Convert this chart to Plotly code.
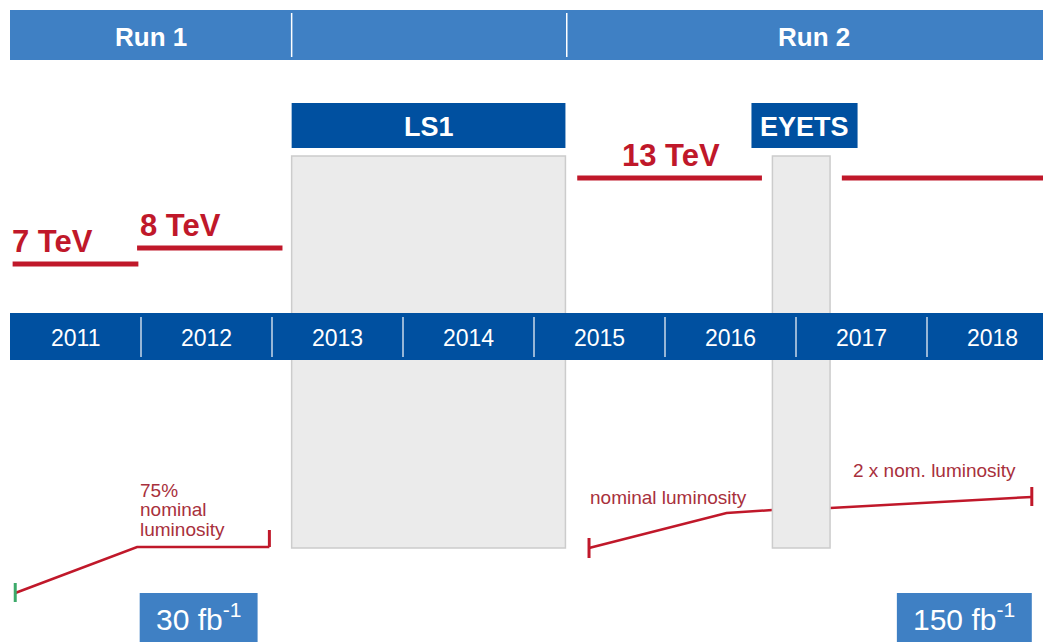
import plotly.graph_objects as go

# ---------------- data ----------------
years = [2011, 2012, 2013, 2014, 2015, 2016, 2017, 2018]
year_labels = [str(y) for y in years]

runs = ["Run 1", "Run 2"]
run_label_x = [2012.08, 2017.14]

shutdowns = ["LS1", "EYETS"]
shutdown_head_spans = [(2013.15, 2015.24), (2016.66, 2017.47)]
shutdown_box_spans = [(2013.15, 2015.24), (2016.82, 2017.26)]

energy_labels = ["7 TeV", "8 TeV", "13 TeV", ""]
energy_starts = [2011.02, 2011.97, 2015.33, 2017.35]
energy_ends = [2011.98, 2013.08, 2016.74, 2018.9]
energy_levels = [264, 248, 178, 178]
energy_text_x = [2011.00, 2011.98, 2015.66]

lumi1_x = [2011.04, 2011.97, 2012.98]
lumi1_y = [593, 547, 547]
lumi2_x = [2015.42, 2016.47, 2016.82, 2017.26, 2018.80]
lumi2_y = [548, 513, 510, 508, 497]

lumi_texts = ["75%<br>nominal<br>luminosity", "nominal luminosity", "2 x nom. luminosity"]
lumi_text_x = [2011.98, 2015.41, 2017.42]
lumi_text_y = [490, 497, 470]

totals = ["30 fb<sup>-1</sup>", "150 fb<sup>-1</sup>"]
total_spans = [(2011.99, 2012.89), (2017.77, 2018.80)]

# ---------------- style ----------------
LIGHT_BLUE = "#3f80c4"
DARK_BLUE = "#0050a0"
RED = "#c0182a"
TEXT_RED = "#a8303c"
GREY = "#ebebeb"
FONT = "Liberation Sans, Arial, sans-serif"

fig = go.Figure()
shapes = []
ann = []

# top run bar
shapes.append(dict(type="rect", x0=2011.0, x1=2018.9, y0=10, y1=60,
                   fillcolor=LIGHT_BLUE, line=dict(width=0), layer="above"))
for xs in [2013.15, 2015.25]:
    shapes.append(dict(type="line", x0=xs, x1=xs, y0=13, y1=57,
                       line=dict(color="white", width=1.5), layer="above"))
for r, cx in zip(runs, run_label_x):
    ann.append(dict(x=cx, y=37, text="<b>%s</b>" % r, showarrow=False,
                    font=dict(family=FONT, size=26, color="white")))

# shutdown headers and grey boxes
for name, (a, b), (c, d) in zip(shutdowns, shutdown_head_spans, shutdown_box_spans):
    shapes.append(dict(type="rect", x0=a, x1=b, y0=103, y1=148,
                       fillcolor=DARK_BLUE, line=dict(width=0), layer="above"))
    ann.append(dict(x=(a + b) / 2, y=127, text="<b>%s</b>" % name, showarrow=False,
                    font=dict(family=FONT, size=27, color="white")))
    shapes.append(dict(type="rect", x0=c, x1=d, y0=156, y1=548,
                       fillcolor=GREY, line=dict(color="#cccccc", width=1.5), layer="above"))

# year bar
shapes.append(dict(type="rect", x0=2011.0, x1=2018.9, y0=313, y1=360,
                   fillcolor=DARK_BLUE, line=dict(width=0), layer="above"))
for y in years[1:]:
    shapes.append(dict(type="line", x0=y, x1=y, y0=317, y1=357,
                       line=dict(color="#c8d8ea", width=1.5), layer="above"))
for y, lab in zip(years, year_labels):
    ann.append(dict(x=y + 0.5, y=338, text=lab, showarrow=False,
                    font=dict(family=FONT, size=23, color="white")))

# energy lines
for lab, a, b, lv in zip(energy_labels, energy_starts, energy_ends, energy_levels):
    fig.add_trace(go.Scatter(x=[a, b], y=[lv, lv], mode="lines",
                             line=dict(color=RED, width=5), hoverinfo="skip"))
for lab, tx, lv in zip(energy_labels[:3], energy_text_x, energy_levels[:3]):
    ann.append(dict(x=tx, y=lv - 3, text="<b>%s</b>" % lab, showarrow=False,
                    xanchor="left", yanchor="bottom",
                    font=dict(family=FONT, size=31, color=RED)))

# luminosity lines
fig.add_trace(go.Scatter(x=lumi1_x, y=lumi1_y, mode="lines",
                         line=dict(color=RED, width=2.5), hoverinfo="skip"))
fig.add_trace(go.Scatter(x=lumi2_x, y=lumi2_y, mode="lines",
                         line=dict(color=RED, width=2.5), hoverinfo="skip"))
# end ticks
fig.add_trace(go.Scatter(x=[lumi1_x[0], lumi1_x[0]], y=[lumi1_y[0] - 10, lumi1_y[0] + 9],
                         mode="lines", line=dict(color="#3daa6a", width=3), hoverinfo="skip"))
fig.add_trace(go.Scatter(x=[lumi1_x[-1], lumi1_x[-1]], y=[lumi1_y[-1] - 17, lumi1_y[-1]],
                         mode="lines", line=dict(color=RED, width=3), hoverinfo="skip"))
fig.add_trace(go.Scatter(x=[lumi2_x[0], lumi2_x[0]], y=[lumi2_y[0] - 10, lumi2_y[0] + 10],
                         mode="lines", line=dict(color=RED, width=3), hoverinfo="skip"))
fig.add_trace(go.Scatter(x=[lumi2_x[-1], lumi2_x[-1]], y=[lumi2_y[-1] - 10, lumi2_y[-1] + 9],
                         mode="lines", line=dict(color=RED, width=3), hoverinfo="skip"))

LINE_H = 19.5
for t, tx, ty in zip(lumi_texts, lumi_text_x, lumi_text_y):
    for i, line in enumerate(t.split("<br>")):
        ann.append(dict(x=tx, y=ty + i * LINE_H, text=line, showarrow=False,
                        xanchor="left", yanchor="middle", align="left",
                        font=dict(family=FONT, size=19, color=TEXT_RED)))

# total luminosity boxes
for t, (a, b) in zip(totals, total_spans):
    shapes.append(dict(type="rect", x0=a, x1=b, y0=593, y1=645,
                       fillcolor=LIGHT_BLUE, line=dict(width=0), layer="above"))
    ann.append(dict(x=(a + b) / 2, y=617, text=t, showarrow=False,
                    font=dict(family=FONT, size=30, color="white")))

px0 = 2011 - 10 / 131
px1 = 2011 + 1033 / 131
fig.update_layout(
    width=1043, height=642,
    margin=dict(l=0, r=0, t=0, b=0),
    paper_bgcolor="white", plot_bgcolor="white",
    showlegend=False,
    xaxis=dict(range=[px0, px1], visible=False, fixedrange=True),
    yaxis=dict(range=[642, 0], visible=False, fixedrange=True),
    shapes=shapes, annotations=ann,
)
fig.write_html("out.html", config={"displayModeBar": False},
               post_script="document.body.style.margin='0';document.body.style.overflow='hidden';")
